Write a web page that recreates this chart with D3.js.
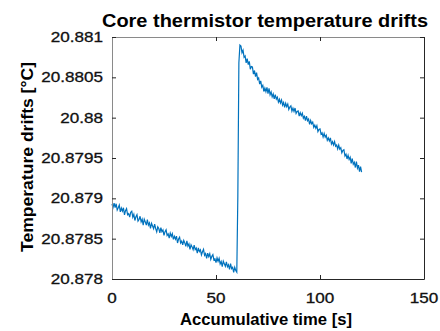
<!DOCTYPE html>
<html>
<head>
<meta charset="utf-8">
<script src="https://cdn.jsdelivr.net/npm/d3@7"></script>
<style>
  body { margin: 0; background: #fff; }
  svg { display: block; font-family: "Liberation Sans", Arial, sans-serif; }
  .tick-label { font-size: 14px; fill: #111; stroke: #111; stroke-width: 0.3px; }
  .axis-title { font-size: 16px; font-weight: bold; fill: #000; }
  .chart-title { font-size: 17.5px; font-weight: bold; fill: #000; }
</style>
</head>
<body>
<svg id="chart" width="440" height="331"></svg>
<script>
// sample spacing of the recording (s)
const sampleStep = 0.5;

// core thermistor readings [°C], t = 0 ... 60 s
const tempBefore = [
  20.878930, 20.878888, 20.878941, 20.878885, 20.878933, 20.878856, 20.878884, 20.878917, 20.878831, 20.878879,
  20.878842, 20.878883, 20.878796, 20.878847, 20.878873, 20.878798, 20.878811, 20.878766, 20.878828, 20.878841,
  20.878766, 20.878802, 20.878725, 20.878772, 20.878797, 20.878718, 20.878738, 20.878778, 20.878708, 20.878741,
  20.878668, 20.878741, 20.878708, 20.878668, 20.878735, 20.878668, 20.878695, 20.878628, 20.878690, 20.878657,
  20.878624, 20.878681, 20.878624, 20.878584, 20.878647, 20.878626, 20.878573, 20.878636, 20.878586, 20.878609,
  20.878540, 20.878587, 20.878610, 20.878540, 20.878559, 20.878508, 20.878569, 20.878528, 20.878562, 20.878491,
  20.878530, 20.878493, 20.878532, 20.878446, 20.878495, 20.878518, 20.878447, 20.878470, 20.878422, 20.878479,
  20.878448, 20.878405, 20.878474, 20.878408, 20.878435, 20.878368, 20.878425, 20.878398, 20.878364, 20.878421,
  20.878364, 20.878383, 20.878322, 20.878386, 20.878341, 20.878362, 20.878299, 20.878338, 20.878368, 20.878293,
  20.878314, 20.878257, 20.878320, 20.878278, 20.878313, 20.878244, 20.878281, 20.878302, 20.878236, 20.878249,
  20.878202, 20.878261, 20.878220, 20.878256, 20.878187, 20.878216, 20.878153, 20.878222, 20.878190, 20.878157,
  20.878212, 20.878151, 20.878176, 20.878118, 20.878191, 20.878128, 20.878145, 20.878082, 20.878144, 20.878105,
  20.878084
];

// core thermistor readings [°C], t = 60.5 ... 120 s
const tempAfter = [
  20.879030, 20.880680, 20.880900, 20.880887, 20.880804, 20.880836, 20.880748, 20.880765, 20.880679, 20.880733,
  20.880658, 20.880697, 20.880601, 20.880635, 20.880630, 20.880540, 20.880585, 20.880510, 20.880558, 20.880475,
  20.880493, 20.880417, 20.880455, 20.880378, 20.880402, 20.880325, 20.880367, 20.880323, 20.880375, 20.880297,
  20.880363, 20.880285, 20.880319, 20.880258, 20.880293, 20.880232, 20.880286, 20.880230, 20.880254, 20.880193,
  20.880228, 20.880182, 20.880219, 20.880155, 20.880187, 20.880128, 20.880180, 20.880137, 20.880168, 20.880102,
  20.880132, 20.880147, 20.880080, 20.880118, 20.880077, 20.880120, 20.880052, 20.880078, 20.880085, 20.880020,
  20.880061, 20.880025, 20.880055, 20.879993, 20.880017, 20.879965, 20.880020, 20.879963, 20.879983, 20.879917,
  20.879965, 20.879923, 20.879945, 20.879880, 20.879907, 20.879868, 20.879900, 20.879827, 20.879854, 20.879860,
  20.879796, 20.879813, 20.879760, 20.879805, 20.879758, 20.879783, 20.879719, 20.879748, 20.879711, 20.879750,
  20.879673, 20.879702, 20.879661, 20.879704, 20.879647, 20.879661, 20.879612, 20.879660, 20.879609, 20.879627,
  20.879564, 20.879593, 20.879602, 20.879525, 20.879547, 20.879488, 20.879533, 20.879482, 20.879510, 20.879432,
  20.879494, 20.879423, 20.879448, 20.879382, 20.879454, 20.879375, 20.879411, 20.879330, 20.879394, 20.879325
];

const xTicks = [0, 50, 100, 150];
const yTicks = [20.878, 20.8785, 20.879, 20.8795, 20.88, 20.8805, 20.881];
const yTickLabels = ['20.878', '20.8785', '20.879', '20.8795', '20.88', '20.8805', '20.881'];

const titleText = 'Core thermistor temperature drifts';
const xTitle = 'Accumulative time [s]';
const yTitle = 'Temperature drifts [°C]';

const svg = d3.select('#chart');
const margin = { top: 37, right: 16, bottom: 52, left: 112 };
const width = 440 - margin.left - margin.right;
const height = 331 - margin.top - margin.bottom;

const x = d3.scaleLinear().domain([0, 150]).range([margin.left, margin.left + width]);
const y = d3.scaleLinear().domain([20.878, 20.881]).range([margin.top + height, margin.top]);

const series = tempBefore.concat(tempAfter).map((v, i) => ({ t: i * sampleStep, v }));

// data line
svg.append('path')
  .datum(series)
  .attr('fill', 'none')
  .attr('stroke', '#0072bd')
  .attr('stroke-width', 1.2)
  .attr('d', d3.line().x(d => x(d.t)).y(d => y(d.v)));

// axes box, ticks pointing inward on every side
const axisColor = '#262626';
const gBottom = svg.append('g').attr('transform', `translate(0,${margin.top + height})`)
  .call(d3.axisBottom(x).tickValues(xTicks).tickSizeInner(-4).tickSizeOuter(0).tickFormat(''));
const gTop = svg.append('g').attr('transform', `translate(0,${margin.top})`)
  .call(d3.axisTop(x).tickValues(xTicks).tickSizeInner(-4).tickSizeOuter(0).tickFormat(''));
const gLeft = svg.append('g').attr('transform', `translate(${margin.left},0)`)
  .call(d3.axisLeft(y).tickValues(yTicks).tickSizeInner(-4).tickSizeOuter(0).tickFormat(''));
const gRight = svg.append('g').attr('transform', `translate(${margin.left + width},0)`)
  .call(d3.axisRight(y).tickValues(yTicks).tickSizeInner(-4).tickSizeOuter(0).tickFormat(''));

[gBottom, gTop, gLeft, gRight].forEach(g => {
  g.selectAll('path, line').attr('stroke', axisColor);
});
gTop.select('.domain').attr('stroke', '#8a8a8a');
gLeft.select('.domain').attr('stroke', '#8a8a8a');

// the reference figure is stretched sideways a little, so widen the glyphs
const widen = function () {
  this.setAttribute('textLength', this.getComputedTextLength() * 1.22);
  this.setAttribute('lengthAdjust', 'spacingAndGlyphs');
};

// tick labels
svg.selectAll('.x-label')
  .data(xTicks)
  .enter()
  .append('text')
  .attr('class', 'tick-label')
  .attr('x', d => x(d))
  .attr('y', 303)
  .attr('text-anchor', 'middle')
  .text(d => d)
  .each(widen);

svg.selectAll('.y-label')
  .data(yTicks)
  .enter()
  .append('text')
  .attr('class', 'tick-label')
  .attr('x', margin.left - 9)
  .attr('y', d => y(d))
  .attr('dy', '0.36em')
  .attr('text-anchor', 'end')
  .text((d, i) => yTickLabels[i])
  .each(widen);

// titles
svg.append('text')
  .attr('class', 'chart-title')
  .attr('x', 265)
  .attr('y', 27)
  .attr('text-anchor', 'middle')
  .attr('textLength', 326)
  .attr('lengthAdjust', 'spacingAndGlyphs')
  .text(titleText);

svg.append('text')
  .attr('class', 'axis-title')
  .attr('x', 266)
  .attr('y', 325)
  .attr('text-anchor', 'middle')
  .attr('textLength', 172)
  .attr('lengthAdjust', 'spacingAndGlyphs')
  .text(xTitle);

svg.append('text')
  .attr('class', 'axis-title')
  .attr('transform', `translate(33,157) rotate(-90)`)
  .attr('text-anchor', 'middle')
  .attr('textLength', 190)
  .attr('lengthAdjust', 'spacingAndGlyphs')
  .text(yTitle);
</script>
</body>
</html>
